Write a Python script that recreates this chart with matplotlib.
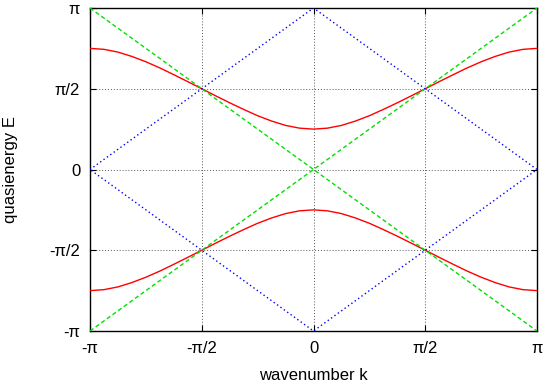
import numpy as np
import matplotlib
matplotlib.use("Agg")
import matplotlib.pyplot as plt

# wavenumber k in units of pi
k_vals = [i / 16 for i in range(-16, 17)]
# upper band quasienergy (units of pi)
E_upper = [0.750, 0.744, 0.727, 0.700, 0.667, 0.629, 0.587, 0.544,
           0.500, 0.456, 0.413, 0.372, 0.333, 0.300, 0.273, 0.256,
           0.250,
           0.256, 0.273, 0.300, 0.333, 0.372, 0.413, 0.456, 0.500,
           0.544, 0.587, 0.629, 0.667, 0.700, 0.727, 0.744, 0.750]
# green dashed lines E = +-k
green_k = [-1.0, 1.0]
green_E = [-1.0, 1.0]
# blue dotted diamond
blue_k = [-1.0, 0.0, 1.0, 0.0, -1.0]
blue_E = [0.0, 1.0, 0.0, -1.0, 0.0]

tick_vals = [-1.0, -0.5, 0.0, 0.5, 1.0]
tick_labels = ["-π", "-π/2", "0", "π/2", "π"]

plt.rcParams['font.family'] = ['Liberation Sans', 'DejaVu Sans']

fig = plt.figure(figsize=(5.43, 3.83), dpi=100)
ax = fig.add_axes([90 / 543, 1 - 331 / 383, (537 - 90) / 543, (331 - 8) / 383])

pi = np.pi
k = np.array(k_vals) * pi
Eu = np.array(E_upper) * pi

ax.plot(k, Eu, color='#ff0000', lw=1.0, zorder=3)
ax.plot(k, -Eu, color='#ff0000', lw=1.0, zorder=3)
gk = np.array(green_k) * pi
gE = np.array(green_E) * pi
ax.plot(gk, gE, color='#00e000', lw=1.0, ls=(0, (3, 2)), zorder=3)
ax.plot(gk, -gE, color='#00e000', lw=1.0, ls=(0, (3, 2)), zorder=3)
ax.plot(np.array(blue_k) * pi, np.array(blue_E) * pi, color='#0000ff',
        lw=1.0, ls=(0, (1, 2)), zorder=3)

ax.set_xlim(-pi, pi)
ax.set_ylim(-pi, pi)
ax.set_xticks(np.array(tick_vals) * pi)
ax.set_xticklabels(tick_labels)
ax.set_yticks(np.array(tick_vals) * pi)
ax.set_yticklabels(tick_labels)
ax.tick_params(direction='in', length=4, width=0.8, labelsize=12,
               top=True, right=True, pad=7, colors='black')
ax.grid(True, color='#555555', ls=(0, (1, 2)), lw=0.7)
for s in ax.spines.values():
    s.set_linewidth(1.0)
    s.set_color('black')

ax.set_xlabel("wavenumber k", fontsize=12)
ax.set_ylabel("quasienergy E", fontsize=12)
ax.xaxis.set_label_coords(0.5, -(375 - 331) / 323, transform=ax.transAxes)
ax.yaxis.set_label_coords(-(90 - 11) / 447, 0.5, transform=ax.transAxes)
ax.xaxis.label.set_va('center')
ax.yaxis.label.set_va('center')

fig.savefig("out.png", dpi=100)
